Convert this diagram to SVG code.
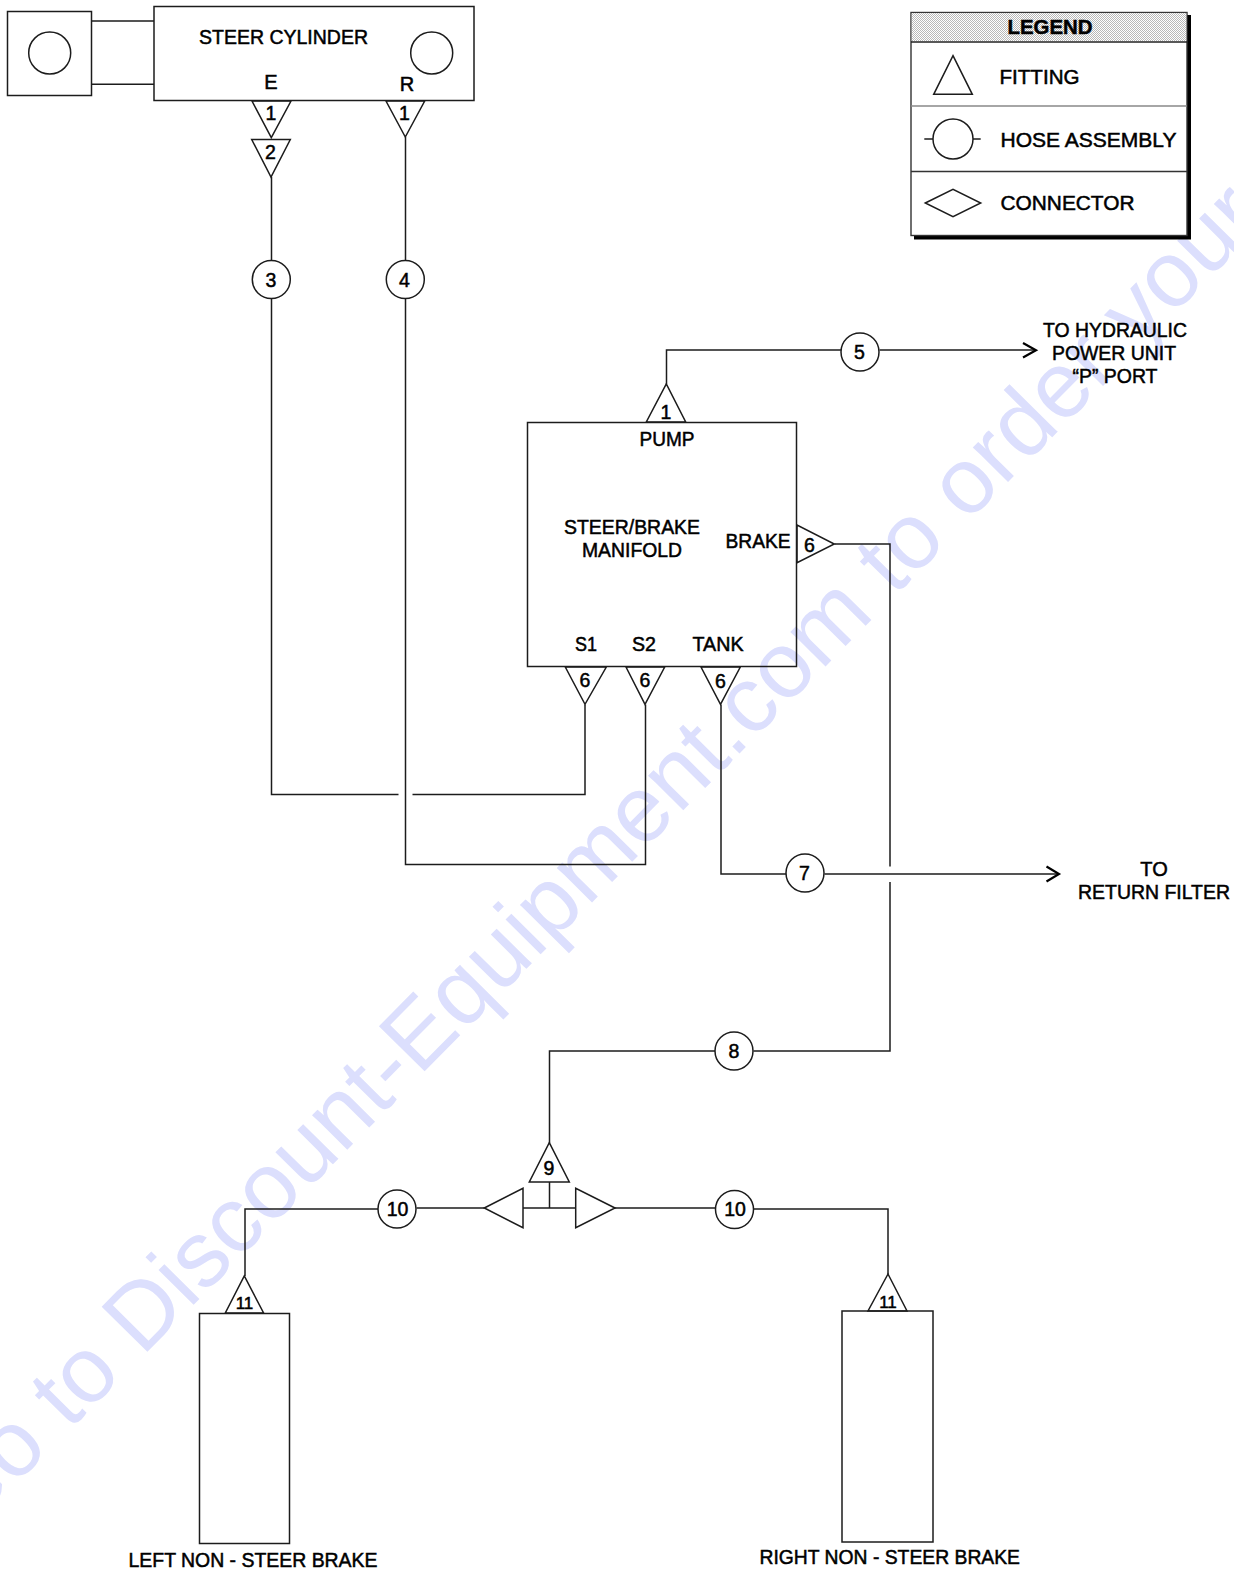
<svg xmlns="http://www.w3.org/2000/svg" width="1234" height="1572" viewBox="0 0 1234 1572">
<style>
text{font-family:"Liberation Sans",Arial,sans-serif;fill:#000;stroke:#000;stroke-width:.5}
.t{font-size:20px}
.m{font-size:20px;text-anchor:middle}
.n{font-size:19.5px;text-anchor:middle}
.s{font-size:17px;text-anchor:middle}
.wm{font-size:93.4px;fill:#dcdffd;stroke:none}
.sh{fill:none;stroke:#1c1c1c;stroke-width:1.5}
.c{fill:none;stroke:#1c1c1c;stroke-width:1.5}
.a{fill:none;stroke:#000;stroke-width:2.2}
</style>
<defs>
<pattern id="dots" width="2" height="2" patternUnits="userSpaceOnUse">
<rect width="2" height="2" fill="#fff"/><rect width="1" height="1" fill="#b8b8b8"/><rect x="1" y="1" width="1" height="1" fill="#b8b8b8"/>
</pattern>
</defs>
<rect width="1234" height="1572" fill="#fff"/>
<text class="wm" transform="translate(-37 1538) rotate(-45.3)">Go to Discount-Equipment.com to order your</text>

<g id="connectors">
<path class="c" d="M92 21H154M92 84.300H154"/>
<path class="c" d="M271.500 177V260.500M271.500 298.500V794.500H398.500M412.500 794.500H585V704.500"/>
<path class="c" d="M405.500 137V260.500M405.500 298.500V864.500H645.500V704.500"/>
<path class="c" d="M666.500 384V350H841M879.500 350H1035"/>
<path class="a" d="M1023 343L1036 350.300L1023 357.500"/>
<path class="c" d="M721 704.500V874H786M824.500 874H1057.500"/>
<path class="a" d="M1046.500 866.500L1059 874L1046.500 881.500"/>
<path class="c" d="M834.500 544H890V866.500M890 882V1051H753.500M715 1051H549.500V1143"/>
<path class="c" d="M549.500 1182V1208M523 1208H576M484.500 1208H416.500M378 1209H245V1276"/>
<path class="c" d="M615 1208H715M753.500 1209H888V1274"/>
</g>

<g id="steer-cylinder-end"><rect class="sh" x="7.500" y="11.500" width="84" height="84"/><circle class="sh" cx="49.700" cy="53" r="21"/></g>
<g id="steer-cylinder"><rect class="sh" x="154" y="6.500" width="320" height="94"/><circle class="sh" cx="431.700" cy="53" r="21"/>
<text class="t" x="199" y="43.500" textLength="169" lengthAdjust="spacingAndGlyphs">STEER CYLINDER</text>
<text class="m" x="271" y="88.500">E</text><text class="m" x="407" y="90.500">R</text></g>
<g id="fitting-e1"><path class="sh" d="M252 101H291L271.300 137.700Z"/><text class="n" x="271" y="119.500">1</text></g>
<g id="fitting-e2"><path class="sh" d="M251.700 139.500H290.300L271 177Z"/><text class="n" x="270.500" y="158.500">2</text></g>
<g id="fitting-r1"><path class="sh" d="M386 101H424.700L405.300 137Z"/><text class="n" x="404.500" y="120">1</text></g>
<g id="hose-3"><circle class="sh" cx="271.300" cy="279.500" r="19"/><text class="n" x="271" y="286.500">3</text></g>
<g id="hose-4"><circle class="sh" cx="405.300" cy="279.500" r="19"/><text class="n" x="404.500" y="286.500">4</text></g>
<g id="hose-5"><circle class="sh" cx="860" cy="352" r="19"/><text class="n" x="859.500" y="359">5</text></g>
<g id="hose-7"><circle class="sh" cx="805" cy="873" r="19"/><text class="n" x="804.500" y="880">7</text></g>
<g id="hose-8"><circle class="sh" cx="734" cy="1051" r="19"/><text class="n" x="734" y="1058">8</text></g>
<g id="hose-10-left"><circle class="sh" cx="397" cy="1209" r="19"/><text class="n" x="397.500" y="1216">10</text></g>
<g id="hose-10-right"><circle class="sh" cx="734.500" cy="1209.500" r="19"/><text class="n" x="735" y="1216">10</text></g>

<g id="manifold"><rect class="sh" x="527.500" y="422.500" width="269" height="244"/>
<text class="m" x="667" y="445.500" textLength="55" lengthAdjust="spacingAndGlyphs">PUMP</text>
<text class="m" x="632" y="534" textLength="136" lengthAdjust="spacingAndGlyphs">STEER/BRAKE</text>
<text class="m" x="632" y="556.500" textLength="100" lengthAdjust="spacingAndGlyphs">MANIFOLD</text>
<text class="m" x="758" y="548" textLength="65" lengthAdjust="spacingAndGlyphs">BRAKE</text>
<text class="m" x="586" y="651" textLength="22" lengthAdjust="spacingAndGlyphs">S1</text>
<text class="m" x="644" y="651" textLength="24" lengthAdjust="spacingAndGlyphs">S2</text>
<text class="m" x="718" y="651" textLength="51" lengthAdjust="spacingAndGlyphs">TANK</text></g>
<g id="fitting-pump"><path class="sh" d="M646.300 422H685.700L666.300 384Z"/><text class="n" x="666" y="419">1</text></g>
<g id="fitting-brake"><path class="sh" d="M797 525V562.700L834.300 544Z"/><text class="n" x="809.500" y="551.500">6</text></g>
<g id="fitting-s1"><path class="sh" d="M565.300 667H606.300L585 704.300Z"/><text class="n" x="585" y="686.500">6</text></g>
<g id="fitting-s2"><path class="sh" d="M626 667H664.700L645 704.300Z"/><text class="n" x="645" y="686.500">6</text></g>
<g id="fitting-tank"><path class="sh" d="M701 667H740.300L720.500 704.300Z"/><text class="n" x="720.500" y="687.500">6</text></g>

<g id="fitting-9"><path class="sh" d="M549.300 1142.700L569.300 1182H529.300Z"/><text class="n" x="549" y="1175">9</text></g>
<g id="connector-left"><path class="sh" d="M484.300 1208L523 1188.300V1227.700Z"/></g>
<g id="connector-right"><path class="sh" d="M615 1208L575.700 1188.300V1227.700Z"/></g>

<g id="left-brake"><rect class="sh" x="199.500" y="1313.500" width="90" height="230"/>
<text class="t" x="128.500" y="1567" textLength="249" lengthAdjust="spacingAndGlyphs">LEFT NON - STEER BRAKE</text></g>
<g id="fitting-11-left"><path class="sh" d="M225.300 1313H263.600L244.300 1276Z"/><text class="s" x="244.500" y="1309">11</text></g>
<g id="right-brake"><rect class="sh" x="842" y="1311" width="91" height="231"/>
<text class="t" x="759.500" y="1564" textLength="260.500" lengthAdjust="spacingAndGlyphs">RIGHT NON - STEER BRAKE</text></g>
<g id="fitting-11-right"><path class="sh" d="M868 1311H907L888 1274Z"/><text class="s" x="888" y="1308">11</text></g>

<g id="to-hydraulic"><text class="m" x="1115" y="337" textLength="144" lengthAdjust="spacingAndGlyphs">TO HYDRAULIC</text>
<text class="m" x="1114" y="360" textLength="124" lengthAdjust="spacingAndGlyphs">POWER UNIT</text>
<text class="m" x="1115" y="383" textLength="85" lengthAdjust="spacingAndGlyphs">“P” PORT</text></g>
<g id="to-return-filter"><text class="m" x="1154" y="876">TO</text>
<text class="m" x="1154" y="899" textLength="152" lengthAdjust="spacingAndGlyphs">RETURN FILTER</text></g>

<g id="legend">
<path d="M914 15H1191V239.500H914Z" fill="#000"/>
<rect x="911" y="12.500" width="276" height="223" fill="#fff" stroke="#333" stroke-width="1.400"/>
<rect x="911.700" y="13.200" width="274.600" height="28" fill="url(#dots)"/>
<path d="M911 42H1187" stroke="#222" stroke-width="1.400"/>
<path d="M911 106H1187" stroke="#888" stroke-width="1.400"/>
<path d="M911 171.500H1187" stroke="#333" stroke-width="1.400"/>
<text class="m" x="1050" y="33.500" textLength="85" lengthAdjust="spacingAndGlyphs" style="font-weight:bold">LEGEND</text>
<path class="sh" d="M953 55.700L972.300 94.300H933.700Z"/>
<text class="t" x="999.500" y="83.500" textLength="80" lengthAdjust="spacingAndGlyphs">FITTING</text>
<circle class="sh" cx="953" cy="139" r="20"/><path class="sh" d="M924.300 139H933M973 139H980.700"/>
<text class="t" x="1000.500" y="146.500" textLength="176" lengthAdjust="spacingAndGlyphs">HOSE ASSEMBLY</text>
<path class="sh" d="M925.300 203L953 189.300L980.700 203L953 216.700Z"/>
<text class="t" x="1000.500" y="210" textLength="134" lengthAdjust="spacingAndGlyphs">CONNECTOR</text>
</g>
</svg>
